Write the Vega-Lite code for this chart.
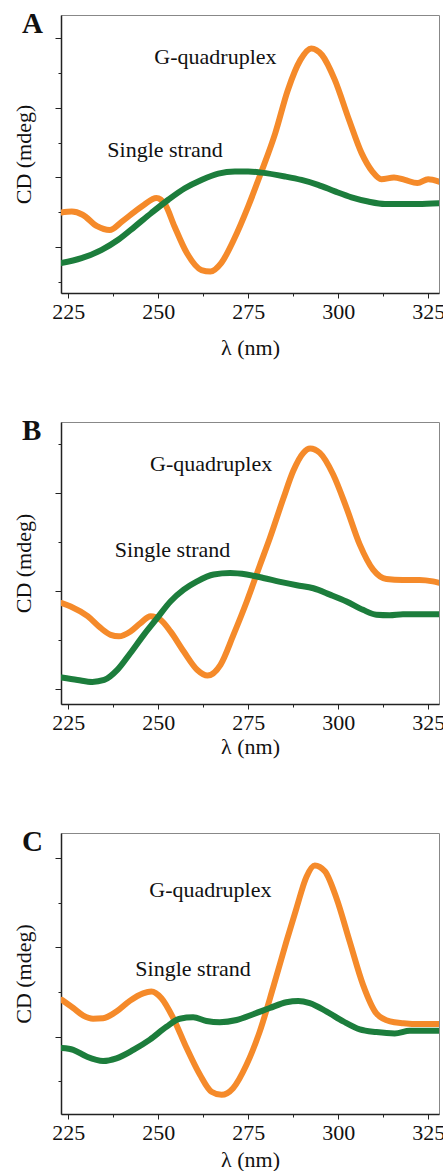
{
  "$schema": "https://vega.github.io/schema/vega-lite/v6.json",
  "padding": {"left": 12, "top": 9, "right": 2, "bottom": 2},
  "background": "white",
  "bounds": "flush",
  "spacing": 129,
  "config": {
    "view": {"stroke": "#888", "strokeWidth": 1},
    "axis": {"labelFont": "Liberation Serif", "titleFont": "Liberation Serif", "labelFontSize": 22, "titleFontSize": 22, "titleFontWeight": "normal", "labelColor": "#111", "titleColor": "#111", "domainColor": "#222", "domainWidth": 1.5, "tickColor": "#222", "grid": false},
    "title": {"font": "Liberation Serif", "fontWeight": "bold", "fontSize": 29, "color": "#111", "anchor": "start", "frame": "group", "offset": 0, "baseline": "alphabetic", "dx": -39, "dy": 28}
  },
  "datasets": {
    "curves": [
      {"p":"A","s":"G-quadruplex","x":223,"y":-1.01},{"p":"A","s":"G-quadruplex","x":226,"y":-0.98},{"p":"A","s":"G-quadruplex","x":229,"y":-1.07},{"p":"A","s":"G-quadruplex","x":233,"y":-1.40},{"p":"A","s":"G-quadruplex","x":236.5,"y":-1.51},{"p":"A","s":"G-quadruplex","x":240,"y":-1.26},{"p":"A","s":"G-quadruplex","x":243.5,"y":-0.98},{"p":"A","s":"G-quadruplex","x":246,"y":-0.79},{"p":"A","s":"G-quadruplex","x":249.5,"y":-0.59},{"p":"A","s":"G-quadruplex","x":252,"y":-0.79},{"p":"A","s":"G-quadruplex","x":254.5,"y":-1.40},{"p":"A","s":"G-quadruplex","x":258,"y":-2.18},{"p":"A","s":"G-quadruplex","x":262,"y":-2.66},{"p":"A","s":"G-quadruplex","x":264.5,"y":-2.70},{"p":"A","s":"G-quadruplex","x":267.5,"y":-2.46},{"p":"A","s":"G-quadruplex","x":271,"y":-1.79},{"p":"A","s":"G-quadruplex","x":275,"y":-0.83},{"p":"A","s":"G-quadruplex","x":278.5,"y":0.12},{"p":"A","s":"G-quadruplex","x":282.5,"y":1.27},{"p":"A","s":"G-quadruplex","x":286,"y":2.51},{"p":"A","s":"G-quadruplex","x":289.5,"y":3.38},{"p":"A","s":"G-quadruplex","x":292.5,"y":3.71},{"p":"A","s":"G-quadruplex","x":295.5,"y":3.52},{"p":"A","s":"G-quadruplex","x":299,"y":2.82},{"p":"A","s":"G-quadruplex","x":303,"y":1.66},{"p":"A","s":"G-quadruplex","x":306.5,"y":0.70},{"p":"A","s":"G-quadruplex","x":309.5,"y":0.17},{"p":"A","s":"G-quadruplex","x":312,"y":-0.05},{"p":"A","s":"G-quadruplex","x":315.5,"y":0.00},{"p":"A","s":"G-quadruplex","x":318.5,"y":-0.07},{"p":"A","s":"G-quadruplex","x":322,"y":-0.16},{"p":"A","s":"G-quadruplex","x":325,"y":-0.05},{"p":"A","s":"G-quadruplex","x":328,"y":-0.12},
      {"p":"A","s":"Single strand","x":223,"y":-2.46},{"p":"A","s":"Single strand","x":228.7,"y":-2.32},{"p":"A","s":"Single strand","x":234.3,"y":-2.08},{"p":"A","s":"Single strand","x":238.9,"y":-1.79},{"p":"A","s":"Single strand","x":243.5,"y":-1.41},{"p":"A","s":"Single strand","x":248.1,"y":-1.02},{"p":"A","s":"Single strand","x":252.8,"y":-0.64},{"p":"A","s":"Single strand","x":257.4,"y":-0.31},{"p":"A","s":"Single strand","x":262,"y":-0.07},{"p":"A","s":"Single strand","x":266.7,"y":0.11},{"p":"A","s":"Single strand","x":271.3,"y":0.17},{"p":"A","s":"Single strand","x":275,"y":0.17},{"p":"A","s":"Single strand","x":278.7,"y":0.14},{"p":"A","s":"Single strand","x":285.2,"y":0.03},{"p":"A","s":"Single strand","x":289.8,"y":-0.07},{"p":"A","s":"Single strand","x":294.4,"y":-0.21},{"p":"A","s":"Single strand","x":299.1,"y":-0.40},{"p":"A","s":"Single strand","x":303.7,"y":-0.57},{"p":"A","s":"Single strand","x":308.3,"y":-0.69},{"p":"A","s":"Single strand","x":313,"y":-0.76},{"p":"A","s":"Single strand","x":317.6,"y":-0.76},{"p":"A","s":"Single strand","x":322.2,"y":-0.76},{"p":"A","s":"Single strand","x":328,"y":-0.74},
      {"p":"B","s":"G-quadruplex","x":223.2,"y":-0.25},{"p":"B","s":"G-quadruplex","x":225.7,"y":-0.32},{"p":"B","s":"G-quadruplex","x":230.4,"y":-0.52},{"p":"B","s":"G-quadruplex","x":234,"y":-0.76},{"p":"B","s":"G-quadruplex","x":236.8,"y":-0.90},{"p":"B","s":"G-quadruplex","x":239.1,"y":-0.93},{"p":"B","s":"G-quadruplex","x":242.3,"y":-0.83},{"p":"B","s":"G-quadruplex","x":245.1,"y":-0.66},{"p":"B","s":"G-quadruplex","x":247.9,"y":-0.52},{"p":"B","s":"G-quadruplex","x":250.6,"y":-0.59},{"p":"B","s":"G-quadruplex","x":253.4,"y":-0.83},{"p":"B","s":"G-quadruplex","x":257.1,"y":-1.24},{"p":"B","s":"G-quadruplex","x":260.8,"y":-1.61},{"p":"B","s":"G-quadruplex","x":263.7,"y":-1.73},{"p":"B","s":"G-quadruplex","x":267.3,"y":-1.51},{"p":"B","s":"G-quadruplex","x":270.9,"y":-0.90},{"p":"B","s":"G-quadruplex","x":274.6,"y":-0.22},{"p":"B","s":"G-quadruplex","x":278.3,"y":0.53},{"p":"B","s":"G-quadruplex","x":281,"y":1.07},{"p":"B","s":"G-quadruplex","x":284.8,"y":1.89},{"p":"B","s":"G-quadruplex","x":287.5,"y":2.44},{"p":"B","s":"G-quadruplex","x":290.3,"y":2.81},{"p":"B","s":"G-quadruplex","x":292.2,"y":2.90},{"p":"B","s":"G-quadruplex","x":294.9,"y":2.81},{"p":"B","s":"G-quadruplex","x":298.6,"y":2.37},{"p":"B","s":"G-quadruplex","x":302.3,"y":1.69},{"p":"B","s":"G-quadruplex","x":306,"y":0.94},{"p":"B","s":"G-quadruplex","x":309.7,"y":0.43},{"p":"B","s":"G-quadruplex","x":313.4,"y":0.24},{"p":"B","s":"G-quadruplex","x":317.9,"y":0.22},{"p":"B","s":"G-quadruplex","x":322.6,"y":0.22},{"p":"B","s":"G-quadruplex","x":326.3,"y":0.19},{"p":"B","s":"G-quadruplex","x":328.1,"y":0.16},
      {"p":"B","s":"Single strand","x":223.2,"y":-1.77},{"p":"B","s":"Single strand","x":227.6,"y":-1.82},{"p":"B","s":"Single strand","x":231.7,"y":-1.86},{"p":"B","s":"Single strand","x":235,"y":-1.82},{"p":"B","s":"Single strand","x":238.7,"y":-1.61},{"p":"B","s":"Single strand","x":242.3,"y":-1.27},{"p":"B","s":"Single strand","x":246,"y":-0.90},{"p":"B","s":"Single strand","x":249.7,"y":-0.56},{"p":"B","s":"Single strand","x":253.4,"y":-0.22},{"p":"B","s":"Single strand","x":257.1,"y":0.02},{"p":"B","s":"Single strand","x":260.8,"y":0.19},{"p":"B","s":"Single strand","x":265.4,"y":0.33},{"p":"B","s":"Single strand","x":270,"y":0.36},{"p":"B","s":"Single strand","x":274.6,"y":0.33},{"p":"B","s":"Single strand","x":279.2,"y":0.26},{"p":"B","s":"Single strand","x":283.9,"y":0.18},{"p":"B","s":"Single strand","x":288.5,"y":0.11},{"p":"B","s":"Single strand","x":293.1,"y":0.05},{"p":"B","s":"Single strand","x":297.7,"y":-0.08},{"p":"B","s":"Single strand","x":302.3,"y":-0.22},{"p":"B","s":"Single strand","x":306.9,"y":-0.39},{"p":"B","s":"Single strand","x":310.6,"y":-0.49},{"p":"B","s":"Single strand","x":314.3,"y":-0.50},{"p":"B","s":"Single strand","x":318,"y":-0.48},{"p":"B","s":"Single strand","x":322.6,"y":-0.48},{"p":"B","s":"Single strand","x":328.1,"y":-0.48},
      {"p":"C","s":"G-quadruplex","x":223.3,"y":0.82},{"p":"C","s":"G-quadruplex","x":226.4,"y":0.64},{"p":"C","s":"G-quadruplex","x":229.2,"y":0.47},{"p":"C","s":"G-quadruplex","x":231.9,"y":0.40},{"p":"C","s":"G-quadruplex","x":234.7,"y":0.41},{"p":"C","s":"G-quadruplex","x":238.4,"y":0.56},{"p":"C","s":"G-quadruplex","x":242.1,"y":0.80},{"p":"C","s":"G-quadruplex","x":245.8,"y":0.97},{"p":"C","s":"G-quadruplex","x":248.1,"y":1.01},{"p":"C","s":"G-quadruplex","x":250.9,"y":0.86},{"p":"C","s":"G-quadruplex","x":254.2,"y":0.41},{"p":"C","s":"G-quadruplex","x":257.9,"y":-0.26},{"p":"C","s":"G-quadruplex","x":261.6,"y":-0.86},{"p":"C","s":"G-quadruplex","x":264.8,"y":-1.24},{"p":"C","s":"G-quadruplex","x":267.6,"y":-1.31},{"p":"C","s":"G-quadruplex","x":270.8,"y":-1.16},{"p":"C","s":"G-quadruplex","x":274.5,"y":-0.64},{"p":"C","s":"G-quadruplex","x":278.2,"y":0.11},{"p":"C","s":"G-quadruplex","x":281.9,"y":1.09},{"p":"C","s":"G-quadruplex","x":285.6,"y":2.13},{"p":"C","s":"G-quadruplex","x":288.4,"y":2.88},{"p":"C","s":"G-quadruplex","x":291.2,"y":3.59},{"p":"C","s":"G-quadruplex","x":293.5,"y":3.84},{"p":"C","s":"G-quadruplex","x":296.3,"y":3.71},{"p":"C","s":"G-quadruplex","x":299.5,"y":3.11},{"p":"C","s":"G-quadruplex","x":303.2,"y":2.13},{"p":"C","s":"G-quadruplex","x":306.9,"y":1.16},{"p":"C","s":"G-quadruplex","x":310.6,"y":0.52},{"p":"C","s":"G-quadruplex","x":314.4,"y":0.34},{"p":"C","s":"G-quadruplex","x":318.1,"y":0.30},{"p":"C","s":"G-quadruplex","x":322.7,"y":0.28},{"p":"C","s":"G-quadruplex","x":328.2,"y":0.28},
      {"p":"C","s":"Single strand","x":223.3,"y":-0.26},{"p":"C","s":"Single strand","x":226.4,"y":-0.30},{"p":"C","s":"Single strand","x":230.1,"y":-0.45},{"p":"C","s":"Single strand","x":234.7,"y":-0.55},{"p":"C","s":"Single strand","x":238.4,"y":-0.49},{"p":"C","s":"Single strand","x":243.1,"y":-0.30},{"p":"C","s":"Single strand","x":247.7,"y":-0.07},{"p":"C","s":"Single strand","x":252.3,"y":0.22},{"p":"C","s":"Single strand","x":256,"y":0.40},{"p":"C","s":"Single strand","x":259.7,"y":0.43},{"p":"C","s":"Single strand","x":263.4,"y":0.35},{"p":"C","s":"Single strand","x":267.1,"y":0.32},{"p":"C","s":"Single strand","x":271.8,"y":0.37},{"p":"C","s":"Single strand","x":276.4,"y":0.50},{"p":"C","s":"Single strand","x":281,"y":0.64},{"p":"C","s":"Single strand","x":285.6,"y":0.77},{"p":"C","s":"Single strand","x":288.9,"y":0.80},{"p":"C","s":"Single strand","x":292.1,"y":0.75},{"p":"C","s":"Single strand","x":296.8,"y":0.56},{"p":"C","s":"Single strand","x":301.4,"y":0.34},{"p":"C","s":"Single strand","x":306,"y":0.16},{"p":"C","s":"Single strand","x":310.6,"y":0.10},{"p":"C","s":"Single strand","x":315.7,"y":0.07},{"p":"C","s":"Single strand","x":319.9,"y":0.13},{"p":"C","s":"Single strand","x":324.6,"y":0.13},{"p":"C","s":"Single strand","x":328.2,"y":0.13}
    ],
    "labels": [
      {"p":"A","t":"G-quadruplex","x":265.9,"y":3.26},{"p":"A","t":"Single strand","x":251.9,"y":0.60},
      {"p":"B","t":"G-quadruplex","x":264.7,"y":2.44},{"p":"B","t":"Single strand","x":254.0,"y":0.68},
      {"p":"C","t":"G-quadruplex","x":264.5,"y":3.14},{"p":"C","t":"Single strand","x":259.7,"y":1.35}
    ]
  },
  "vconcat": [
    {
      "width": 378, "height": 278,
      "title": {"text": "A"},
      "encoding": {
        "x": {"field": "x", "type": "quantitative", "scale": {"domain": [223, 328], "nice": false, "zero": false},
              "axis": {"title": "λ (nm)", "values": [225, 237.5, 250, 262.5, 275, 287.5, 300, 312.5, 325], "labelExpr": "datum.value % 25 === 0 ? datum.label : ''", "labelOverlap": false, "labelBound": false, "labelFlush": false, "tickSize": {"condition": {"test": "datum.value % 25 === 0", "value": 5}, "value": 3}, "labelPadding": 3, "titlePadding": 15}},
        "y": {"field": "y", "type": "quantitative", "scale": {"domain": [-3.32, 4.67], "nice": false, "zero": false},
              "axis": {"title": "CD (mdeg)", "labels": false, "values": [-3, -2, -1, 0, 1, 2, 3, 4], "tickSize": {"condition": {"test": "datum.value % 2 === 0", "value": 6}, "value": 3}, "titlePadding": 19}}
      },
      "layer": [
        {"data": {"name": "curves"}, "transform": [{"filter": "datum.p === 'A'"}],
         "mark": {"type": "line", "interpolate": "monotone", "strokeWidth": 6, "clip": true, "strokeCap": "round"},
         "encoding": {"color": {"field": "s", "type": "nominal", "scale": {"domain": ["G-quadruplex", "Single strand"], "range": ["#F58A2A", "#1C7D3C"]}, "legend": null}}},
        {"data": {"name": "labels"}, "transform": [{"filter": "datum.p === 'A'"}],
         "mark": {"type": "text", "font": "Liberation Serif", "fontSize": 22, "align": "center", "baseline": "alphabetic", "color": "#111"},
         "encoding": {"text": {"field": "t"}}}
      ]
    },
    {
      "width": 378, "height": 282,
      "title": {"text": "B"},
      "encoding": {
        "x": {"field": "x", "type": "quantitative", "scale": {"domain": [223, 328], "nice": false, "zero": false},
              "axis": {"title": "λ (nm)", "values": [225, 237.5, 250, 262.5, 275, 287.5, 300, 312.5, 325], "labelExpr": "datum.value % 25 === 0 ? datum.label : ''", "labelOverlap": false, "labelBound": false, "labelFlush": false, "tickSize": {"condition": {"test": "datum.value % 25 === 0", "value": 5}, "value": 3}, "labelPadding": 3, "titlePadding": 3}},
        "y": {"field": "y", "type": "quantitative", "scale": {"domain": [-2.31, 3.44], "nice": false, "zero": false},
              "axis": {"title": "CD (mdeg)", "labels": false, "values": [-2, -1, 0, 1, 2, 3], "tickSize": {"condition": {"test": "datum.value % 2 === 0", "value": 6}, "value": 3}, "titlePadding": 19}}
      },
      "layer": [
        {"data": {"name": "curves"}, "transform": [{"filter": "datum.p === 'B'"}],
         "mark": {"type": "line", "interpolate": "monotone", "strokeWidth": 6, "clip": true, "strokeCap": "round"},
         "encoding": {"color": {"field": "s", "type": "nominal", "scale": {"domain": ["G-quadruplex", "Single strand"], "range": ["#F58A2A", "#1C7D3C"]}, "legend": null}}},
        {"data": {"name": "labels"}, "transform": [{"filter": "datum.p === 'B'"}],
         "mark": {"type": "text", "font": "Liberation Serif", "fontSize": 22, "align": "center", "baseline": "alphabetic", "color": "#111"},
         "encoding": {"text": {"field": "t"}}}
      ]
    },
    {
      "width": 378, "height": 281,
      "title": {"text": "C"},
      "encoding": {
        "x": {"field": "x", "type": "quantitative", "scale": {"domain": [223, 328], "nice": false, "zero": false},
              "axis": {"title": "λ (nm)", "values": [225, 237.5, 250, 262.5, 275, 287.5, 300, 312.5, 325], "labelExpr": "datum.value % 25 === 0 ? datum.label : ''", "labelOverlap": false, "labelBound": false, "labelFlush": false, "tickSize": {"condition": {"test": "datum.value % 25 === 0", "value": 5}, "value": 3}, "labelPadding": 3, "titlePadding": 6}},
        "y": {"field": "y", "type": "quantitative", "scale": {"domain": [-1.74, 4.57], "nice": false, "zero": false},
              "axis": {"title": "CD (mdeg)", "labels": false, "values": [-1, 0, 1, 2, 3, 4], "tickSize": {"condition": {"test": "datum.value % 2 === 0", "value": 6}, "value": 3}, "titlePadding": 19}}
      },
      "layer": [
        {"data": {"name": "curves"}, "transform": [{"filter": "datum.p === 'C'"}],
         "mark": {"type": "line", "interpolate": "monotone", "strokeWidth": 6, "clip": true, "strokeCap": "round"},
         "encoding": {"color": {"field": "s", "type": "nominal", "scale": {"domain": ["G-quadruplex", "Single strand"], "range": ["#F58A2A", "#1C7D3C"]}, "legend": null}}},
        {"data": {"name": "labels"}, "transform": [{"filter": "datum.p === 'C'"}],
         "mark": {"type": "text", "font": "Liberation Serif", "fontSize": 22, "align": "center", "baseline": "alphabetic", "color": "#111"},
         "encoding": {"text": {"field": "t"}}}
      ]
    }
  ]
}
